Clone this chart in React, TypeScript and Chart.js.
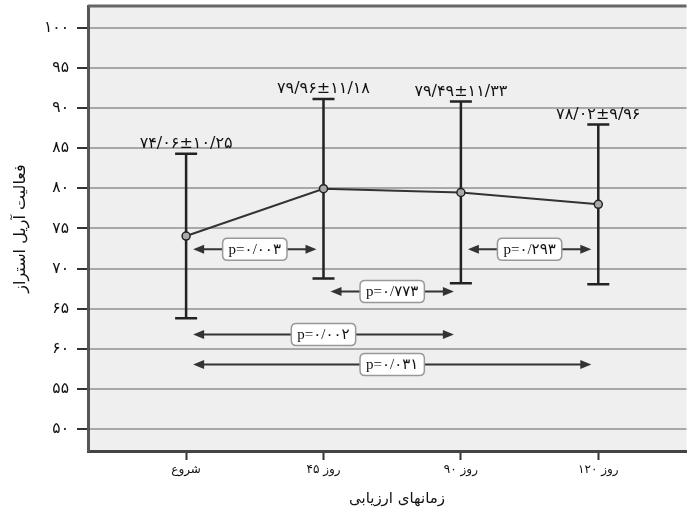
import { useEffect, useRef } from 'react';
import { Chart, registerables } from 'chart.js';

Chart.register(...registerables);

const categories = ['شروع', 'روز ۴۵', 'روز ۹۰', 'روز ۱۲۰'];
const means = [74.06, 79.96, 79.49, 78.02];
const sds = [10.25, 11.18, 11.33, 9.96];
const yTickValues = [50, 55, 60, 65, 70, 75, 80, 85, 90, 95, 100];
const yTickLabels = ['۵۰', '۵۵', '۶۰', '۶۵', '۷۰', '۷۵', '۸۰', '۸۵', '۹۰', '۹۵', '۱۰۰'];
const compFrom = [0, 1, 0, 0, 2];
const compTo = [1, 2, 2, 3, 3];
const compY = [72.4, 67.15, 61.8, 58.05, 72.4];
const compLabels = ['p=۰/۰۰۳', 'p=۰/۷۷۳', 'p=۰/۰۰۲', 'p=۰/۰۳۱', 'p=۰/۲۹۳'];
const yTitle = 'فعالیت آریل استراز';
const xTitle = 'زمانهای ارزیابی';

const FA_DIGITS = '۰۱۲۳۴۵۶۷۸۹';
const toFa = (n: number) =>
  n
    .toFixed(2)
    .replace('.', '/')
    .replace(/[0-9]/g, (d) => FA_DIGITS[Number(d)]);

const FONT = '"DejaVu Sans", sans-serif';
const SERIF = '"Liberation Serif", "DejaVu Sans", serif';

function roundRect(ctx: CanvasRenderingContext2D, x: number, y: number, w: number, h: number, r: number) {
  ctx.beginPath();
  ctx.moveTo(x + r, y);
  ctx.lineTo(x + w - r, y);
  ctx.quadraticCurveTo(x + w, y, x + w, y + r);
  ctx.lineTo(x + w, y + h - r);
  ctx.quadraticCurveTo(x + w, y + h, x + w - r, y + h);
  ctx.lineTo(x + r, y + h);
  ctx.quadraticCurveTo(x, y + h, x, y + h - r);
  ctx.lineTo(x, y + r);
  ctx.quadraticCurveTo(x, y, x + r, y);
  ctx.closePath();
}

const overlay = {
  id: 'overlay',
  beforeDraw(chart: any) {
    const { ctx, chartArea: a } = chart;
    ctx.save();
    ctx.fillStyle = '#efefef';
    ctx.fillRect(a.left, a.top, a.right - a.left, a.bottom - a.top);
    ctx.restore();
  },
  beforeDatasetsDraw(chart: any) {
    const { ctx } = chart;
    const xs = chart.scales.x;
    const ys = chart.scales.y;
    ctx.save();
    ctx.strokeStyle = '#222';
    ctx.lineWidth = 2.5;
    means.forEach((m, i) => {
      const x = xs.getPixelForValue(i);
      const yt = ys.getPixelForValue(m + sds[i]);
      const yb = ys.getPixelForValue(m - sds[i]);
      ctx.beginPath();
      ctx.moveTo(x, yt);
      ctx.lineTo(x, yb);
      ctx.moveTo(x - 11, yt);
      ctx.lineTo(x + 11, yt);
      ctx.moveTo(x - 11, yb);
      ctx.lineTo(x + 11, yb);
      ctx.stroke();
    });
    ctx.restore();
  },
  afterDatasetsDraw(chart: any) {
    const { ctx } = chart;
    const xs = chart.scales.x;
    const ys = chart.scales.y;
    ctx.save();
    // mean ± sd labels
    ctx.fillStyle = '#111';
    ctx.font = `16px ${FONT}`;
    ctx.textAlign = 'center';
    ctx.textBaseline = 'bottom';
    means.forEach((m, i) => {
      const x = xs.getPixelForValue(i);
      const yt = ys.getPixelForValue(m + sds[i]);
      ctx.fillText(`${toFa(m)}±${toFa(sds[i])}`, x, yt - 2);
    });
    // comparison arrows
    compFrom.forEach((f, k) => {
      const x1 = xs.getPixelForValue(f) + 7;
      const x2 = xs.getPixelForValue(compTo[k]) - 7;
      const y = ys.getPixelForValue(compY[k]);
      ctx.strokeStyle = '#333';
      ctx.fillStyle = '#333';
      ctx.lineWidth = 2;
      ctx.beginPath();
      ctx.moveTo(x1 + 6, y);
      ctx.lineTo(x2 - 6, y);
      ctx.stroke();
      ctx.beginPath();
      ctx.moveTo(x1, y);
      ctx.lineTo(x1 + 11, y - 4.5);
      ctx.lineTo(x1 + 11, y + 4.5);
      ctx.closePath();
      ctx.fill();
      ctx.beginPath();
      ctx.moveTo(x2, y);
      ctx.lineTo(x2 - 11, y - 4.5);
      ctx.lineTo(x2 - 11, y + 4.5);
      ctx.closePath();
      ctx.fill();
      const cx = (xs.getPixelForValue(f) + xs.getPixelForValue(compTo[k])) / 2;
      ctx.font = `15px ${SERIF}`;
      const w = ctx.measureText(compLabels[k]).width + 12;
      const h = 22;
      roundRect(ctx, cx - w / 2, y - h / 2, w, h, 5);
      ctx.fillStyle = '#ffffff';
      ctx.fill();
      ctx.strokeStyle = '#999';
      ctx.lineWidth = 1.5;
      ctx.stroke();
      ctx.fillStyle = '#111';
      ctx.textAlign = 'center';
      ctx.textBaseline = 'middle';
      ctx.fillText(compLabels[k], cx, y + 1);
    });
    ctx.restore();
  },
  afterDraw(chart: any) {
    const { ctx, chartArea: a } = chart;
    ctx.save();
    ctx.strokeStyle = '#666';
    ctx.lineWidth = 3;
    ctx.beginPath();
    ctx.moveTo(a.left, a.top);
    ctx.lineTo(a.right, a.top);
    ctx.stroke();
    // x-axis title
    ctx.fillStyle = '#111';
    ctx.font = `15px ${FONT}`;
    ctx.textAlign = 'center';
    ctx.textBaseline = 'middle';
    ctx.fillText(xTitle, 397, 499);
    ctx.restore();
  },
};

export default function App() {
  const ref = useRef<HTMLCanvasElement>(null);
  useEffect(() => {
    if (!ref.current) return;
    const chart = new Chart(ref.current, {
      type: 'line',
      data: {
        datasets: [
          {
            data: means.map((m, i) => ({ x: i, y: m })),
            borderColor: '#333',
            borderWidth: 2,
            pointRadius: 4,
            pointBackgroundColor: '#aaa',
            pointBorderColor: '#222',
            pointBorderWidth: 1.5,
            tension: 0,
          },
        ],
      },
      options: {
        animation: false,
        responsive: false,
        layout: { padding: { top: 6, left: 0, right: 0, bottom: 0 } },
        plugins: { legend: { display: false }, tooltip: { enabled: false } },
        scales: {
          x: {
            type: 'linear',
            min: -0.714,
            max: 3.642,
            afterBuildTicks: (s: any) => {
              s.ticks = categories.map((_, i) => ({ value: i }));
            },
            afterFit: (s: any) => {
              s.height = 61;
              s.paddingLeft = 0;
              s.paddingRight = 0;
              s.paddingTop = 0;
              s.paddingBottom = 0;
            },
            ticks: {
              callback: (v: any) => categories[Number(v)] ?? '',
              color: '#111',
              font: { family: FONT, size: 12 },
              padding: 3,
              autoSkip: false,
              maxRotation: 0,
            },
            grid: { drawOnChartArea: false, drawTicks: true, tickLength: 9, tickColor: '#333', tickWidth: 2 },
            border: { display: true, color: '#444', width: 3 },
            title: { display: false },
          },
          y: {
            min: 47.26,
            max: 102.74,
            afterBuildTicks: (s: any) => {
              s.ticks = yTickValues.map((v) => ({ value: v }));
            },
            afterFit: (s: any) => {
              s.width = 88;
              s.paddingLeft = 0;
              s.paddingRight = 0;
              s.paddingTop = 0;
              s.paddingBottom = 0;
            },
            ticks: {
              callback: (v: any) => yTickLabels[yTickValues.indexOf(Number(v))] ?? '',
              color: '#111',
              font: { family: FONT, size: 15.5 },
              padding: 8,
            },
            grid: { color: '#a8a8a8', lineWidth: 2, tickColor: '#333', tickLength: 11, tickWidth: 2 },
            border: { display: true, color: '#555', width: 3 },
            title: { display: true, text: yTitle, color: '#111', font: { family: FONT, size: 16 }, padding: { top: 11, bottom: 0 } },
          },
        },
      } as any,
      plugins: [overlay],
    });
    return () => chart.destroy();
  }, []);
  return (
    <div style={{ position: 'fixed', left: 0, top: 0, width: 692, height: 512, background: '#fff' }}>
      <canvas ref={ref} width={692} height={512} style={{ width: 692, height: 512 }} />
    </div>
  );
}
